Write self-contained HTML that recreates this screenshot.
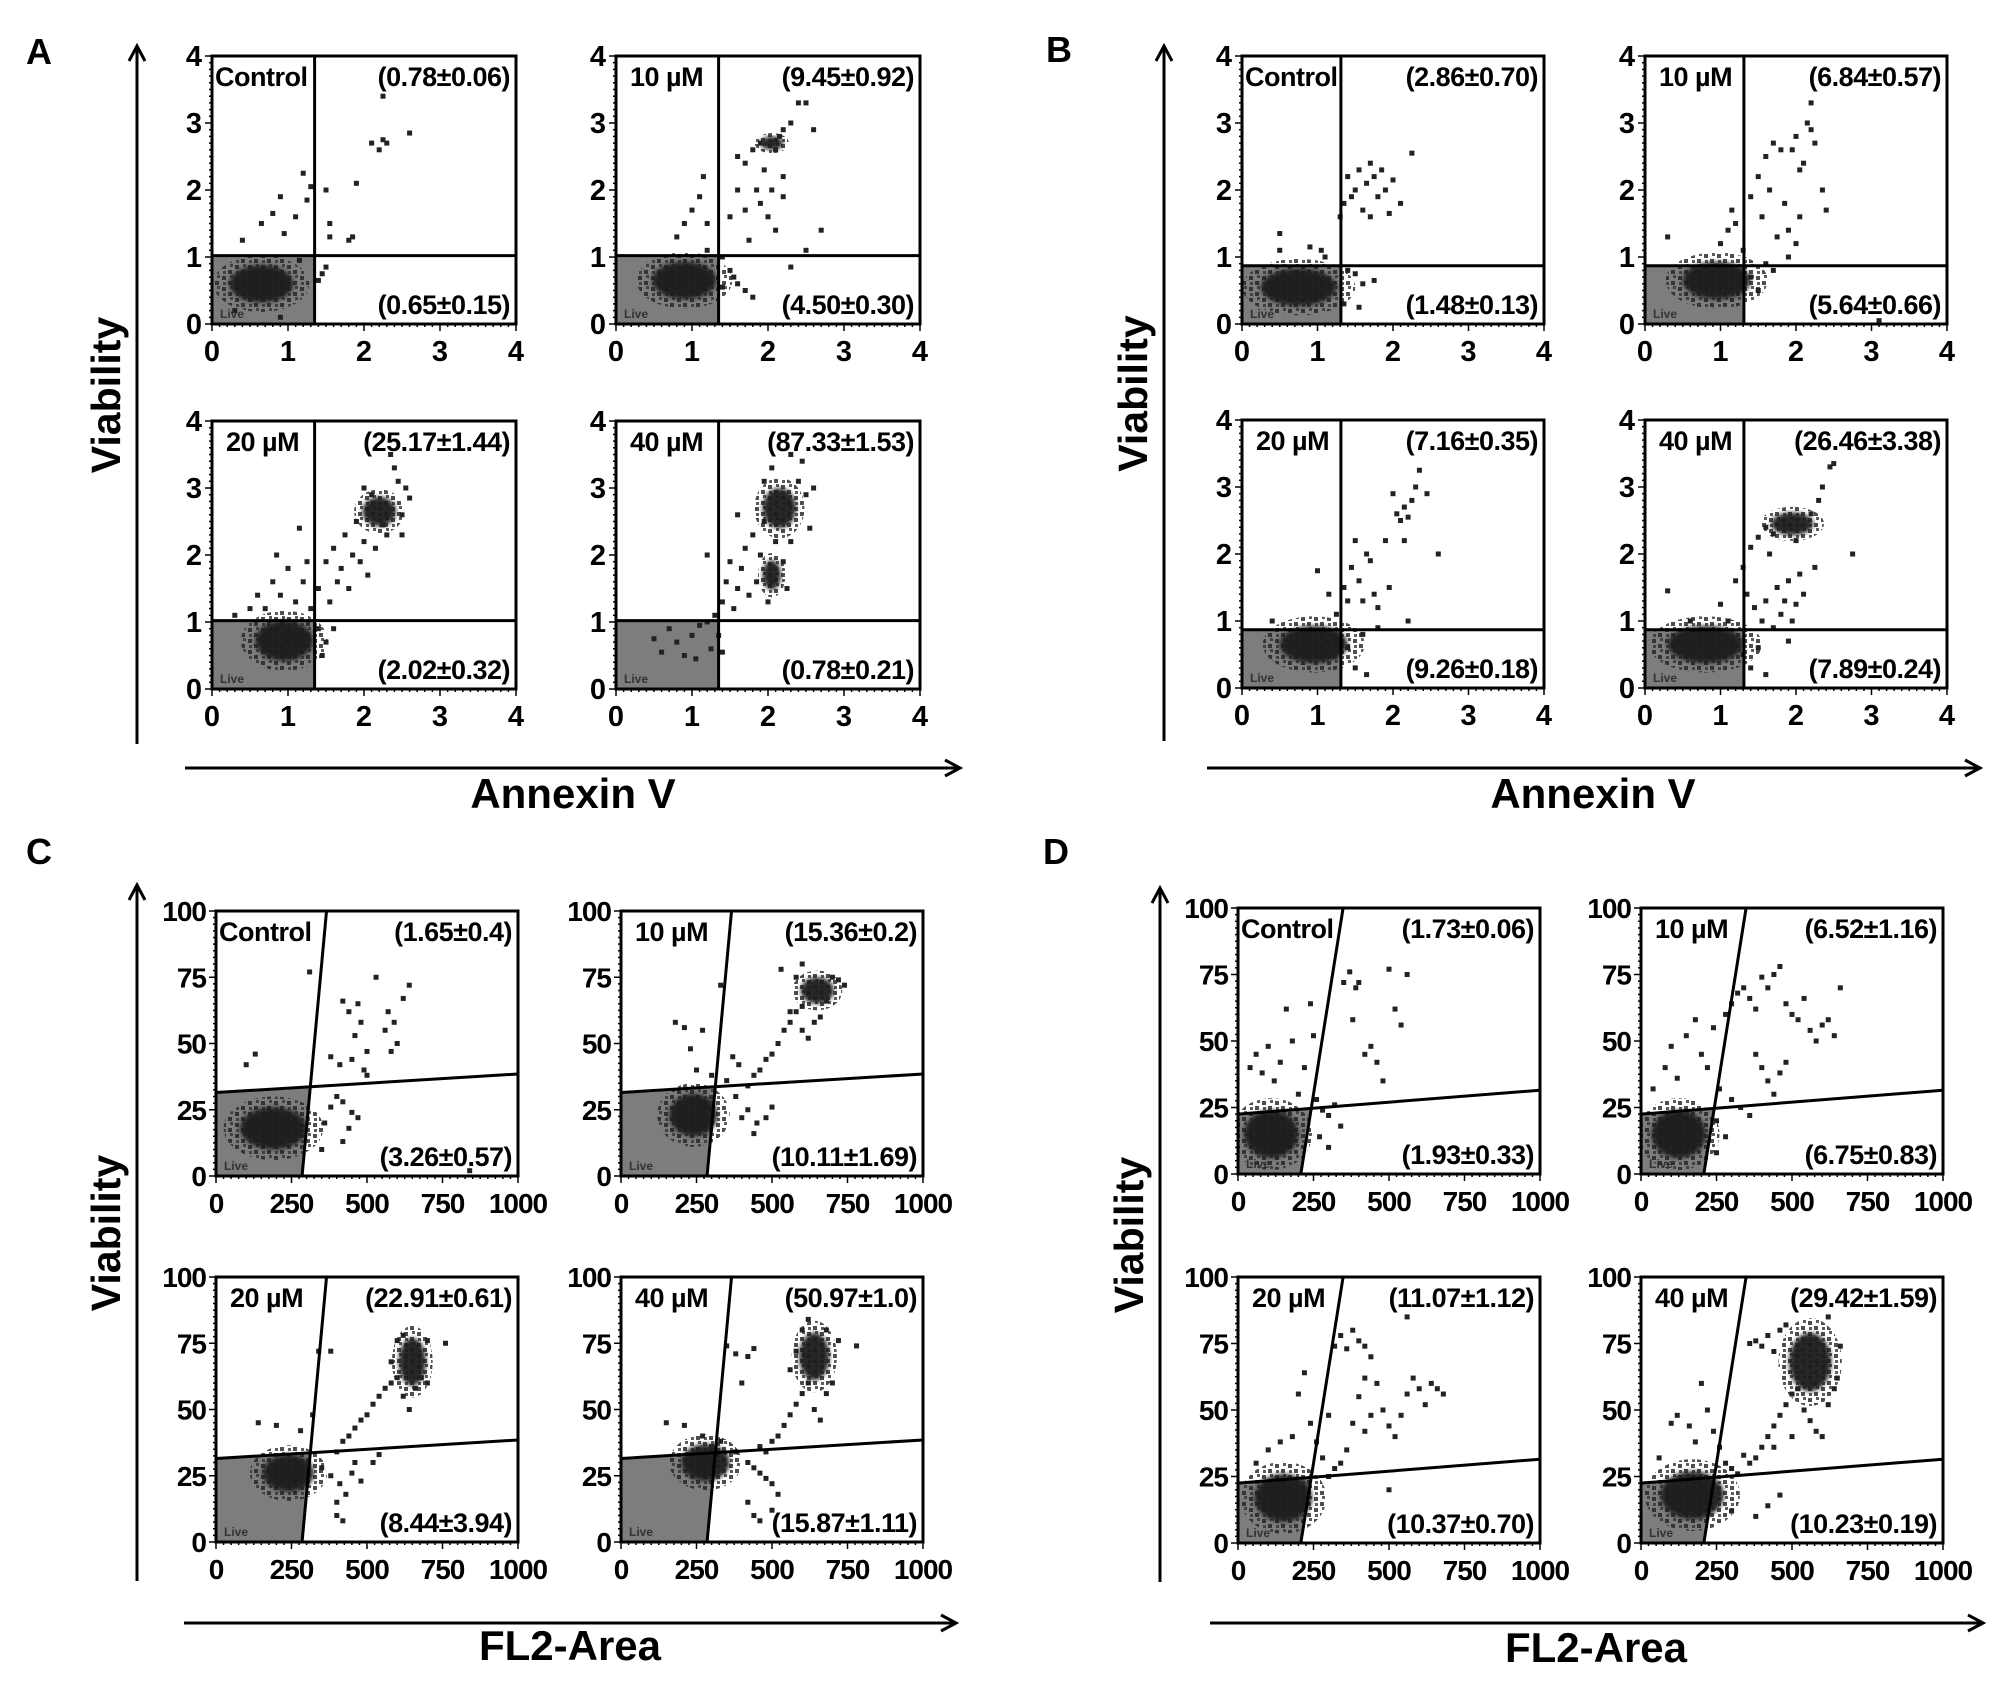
<!DOCTYPE html>
<html><head><meta charset="utf-8">
<style>
html,body{margin:0;padding:0;background:#fff;}
svg{display:block;font-family:"Liberation Sans",Arial,sans-serif;}
</style></head>
<body>
<svg id="fig" width="2008" height="1688" viewBox="0 0 2008 1688" xmlns="http://www.w3.org/2000/svg">
<defs>
<marker id="arr" viewBox="0 0 20 20" refX="17" refY="10" markerWidth="20" markerHeight="20" markerUnits="userSpaceOnUse" orient="auto">
<path d="M2,2 L17,10 L2,18" fill="none" stroke="#000" stroke-width="3"/>
</marker>
<filter id="soft"><feGaussianBlur stdDeviation="2"/></filter>
<pattern id="grain" width="13" height="11" patternUnits="userSpaceOnUse">
<rect x="1" y="1" width="4" height="4" fill="#222"/>
<rect x="7" y="6" width="4" height="4" fill="#222"/>
<rect x="9" y="0" width="3" height="3" fill="#333"/>
<rect x="2" y="7" width="3" height="3" fill="#333"/>
</pattern>
</defs>
<g id="root"></g>
</svg>
<script>
// ---------- Panel-level labels ----------
const panelLetters = ["A","B","C","D"];
const annexTicks = ["0","1","2","3","4"];
const annexTickVals = [0,1,2,3,4];
const flTicks = ["0","250","500","750","1000"];
const flTickVals = [0,250,500,750,1000];
const viaTicks = ["0","25","50","75","100"];
const viaTickVals = [0,25,50,75,100];

// ---------- Condition labels ----------
const condLabels = ["Control","10 µM","20 µM","40 µM"];

// ---------- Quadrant percentages ----------
const urA = ["(0.78±0.06)","(9.45±0.92)","(25.17±1.44)","(87.33±1.53)"];
const lrA = ["(0.65±0.15)","(4.50±0.30)","(2.02±0.32)","(0.78±0.21)"];
const urB = ["(2.86±0.70)","(6.84±0.57)","(7.16±0.35)","(26.46±3.38)"];
const lrB = ["(1.48±0.13)","(5.64±0.66)","(9.26±0.18)","(7.89±0.24)"];
const urC = ["(1.65±0.4)","(15.36±0.2)","(22.91±0.61)","(50.97±1.0)"];
const lrC = ["(3.26±0.57)","(10.11±1.69)","(8.44±3.94)","(15.87±1.11)"];
const urD = ["(1.73±0.06)","(6.52±1.16)","(11.07±1.12)","(29.42±1.59)"];
const lrD = ["(1.93±0.33)","(6.75±0.83)","(10.37±0.70)","(10.23±0.19)"];

// ---------- Gate positions (data units) ----------
const gateA = [1.35, 1.02];
const gateB = [1.31, 0.87];
const gateC = [285, 366, 31.5, 38.5];
const gateD = [208, 348, 22.5, 31.5];

// ---------- Dense clusters [x, y, rx, ry] ----------
const blobsA1 = [[0.65,0.6,0.42,0.28]];
const blobsA2 = [[0.9,0.65,0.42,0.28],[2.05,2.7,0.15,0.1]];
const blobsA3 = [[0.95,0.72,0.38,0.3],[2.2,2.65,0.22,0.22]];
const blobsA4 = [[2.15,2.7,0.22,0.3],[2.05,1.7,0.12,0.22]];
const blobsB1 = [[0.75,0.55,0.5,0.28]];
const blobsB2 = [[0.95,0.65,0.45,0.28]];
const blobsB3 = [[0.95,0.65,0.45,0.28]];
const blobsB4 = [[0.8,0.65,0.5,0.28],[1.95,2.45,0.28,0.17]];
const blobsC1 = [[190,18,110,8]];
const blobsC2 = [[240,23,80,8],[650,70,55,5]];
const blobsC3 = [[240,26,85,7],[650,68,45,9]];
const blobsC4 = [[280,30,80,7],[640,70,50,9]];
const blobsD1 = [[110,15,90,9]];
const blobsD2 = [[125,15,90,9]];
const blobsD3 = [[150,17,95,9]];
const blobsD4 = [[170,18,105,9],[560,68,70,11]];

// ---------- Scattered events [x, y] ----------
const ptsA1 = [[0.4,1.25],[0.65,1.5],[0.8,1.65],[0.9,1.9],[0.95,1.35],[1.1,1.6],[1.2,2.25],[1.25,1.85],[1.3,2.05],[1.5,2.0],[1.55,1.5],[1.55,1.3],[1.9,2.1],[1.85,1.3],[1.8,1.25],[2.1,2.7],[2.2,2.6],[2.25,2.75],[2.3,2.7],[2.25,3.4],[2.6,2.85],[1.5,0.85],[1.4,0.65],[1.45,0.75],[1.15,0.95],[0.9,0.1],[0.3,0.2]];
const ptsA2 = [[0.8,1.3],[0.9,1.5],[1.0,1.7],[1.1,1.9],[1.15,2.2],[1.2,1.1],[1.2,1.5],[1.5,1.6],[1.6,2.0],[1.6,2.5],[1.7,2.4],[1.8,2.6],[1.85,2.0],[1.9,1.8],[2.0,1.6],[2.05,2.0],[2.1,1.4],[2.2,2.9],[2.3,3.0],[2.4,3.3],[2.5,3.3],[2.6,2.9],[2.7,1.4],[2.5,1.1],[2.3,0.85],[1.5,0.8],[1.6,0.6],[1.7,0.5],[1.4,1.0],[1.75,1.25],[1.95,2.3],[2.2,2.2],[1.9,2.7],[2.1,2.6],[2.15,2.8],[1.4,0.55],[1.55,0.7],[1.8,0.4],[2.2,1.9],[1.7,1.7]];
const ptsA3 = [[0.5,1.2],[0.6,1.4],[0.7,1.2],[0.8,1.6],[0.85,2.0],[0.9,1.4],[1.0,1.8],[1.1,1.3],[1.15,2.4],[1.2,1.6],[1.25,1.9],[1.3,1.2],[1.4,1.5],[1.5,1.9],[1.55,1.3],[1.6,2.1],[1.65,1.6],[1.7,1.8],[1.75,2.3],[1.8,1.5],[1.85,2.0],[1.9,2.5],[1.95,1.9],[2.0,2.2],[2.05,1.7],[2.1,2.9],[2.15,2.1],[2.3,2.3],[2.4,3.3],[2.45,3.1],[2.5,2.6],[2.55,3.0],[2.6,2.85],[2.35,3.5],[2.0,3.0],[1.6,0.9],[1.5,0.7],[1.45,0.5],[1.4,0.9],[0.3,1.1],[2.25,2.45],[2.5,2.3]];
const ptsA4 = [[0.6,0.55],[0.8,0.7],[0.9,0.5],[1.0,0.8],[1.05,0.45],[1.1,0.95],[1.2,1.0],[1.25,0.6],[1.3,1.1],[1.35,0.8],[1.4,1.3],[1.45,1.6],[1.5,1.9],[1.55,1.2],[1.6,1.5],[1.65,1.8],[1.7,2.1],[1.75,1.4],[1.8,2.3],[1.85,1.6],[1.9,2.0],[1.95,2.5],[2.0,1.3],[2.1,2.2],[2.2,1.9],[2.25,1.5],[2.3,2.2],[2.4,3.1],[2.45,3.4],[2.5,2.9],[2.55,2.4],[2.6,3.0],[1.95,3.1],[2.05,3.3],[2.3,3.5],[1.4,0.55],[1.2,2.0],[1.6,2.6],[0.7,0.9],[0.5,0.75]];
const ptsB1 = [[0.5,1.35],[0.5,1.1],[0.9,1.15],[1.05,1.1],[1.3,1.6],[1.35,1.8],[1.4,2.2],[1.45,1.9],[1.5,2.0],[1.55,2.3],[1.6,1.7],[1.65,2.1],[1.7,2.4],[1.75,2.2],[1.8,1.9],[1.85,2.3],[1.9,2.0],[1.95,1.65],[2.0,2.15],[2.1,1.8],[1.7,1.6],[2.25,2.55],[1.4,0.8],[1.5,0.75],[1.6,0.6],[1.75,0.65],[1.55,0.25],[1.35,0.3],[1.1,1.0]];
const ptsB2 = [[0.3,1.3],[1.0,1.2],[1.1,1.4],[1.15,1.7],[1.2,1.5],[1.3,1.1],[1.4,1.9],[1.5,2.2],[1.55,1.6],[1.6,2.5],[1.65,2.0],[1.7,2.7],[1.75,1.3],[1.8,2.6],[1.85,1.8],[1.9,1.4],[1.95,2.6],[2.0,2.8],[2.05,1.6],[2.1,2.4],[2.15,3.0],[2.2,3.3],[2.25,2.7],[2.35,2.0],[2.4,1.7],[2.0,1.2],[1.9,1.0],[1.6,0.9],[1.4,0.7],[1.5,0.5],[1.7,0.8],[2.2,2.9],[2.05,2.3],[3.1,0.05]];
const ptsB3 = [[0.4,1.0],[1.0,1.75],[1.15,1.4],[1.25,1.1],[1.35,1.5],[1.4,1.3],[1.45,1.8],[1.5,2.2],[1.55,1.6],[1.6,1.3],[1.65,2.0],[1.7,1.9],[1.75,1.4],[1.8,1.2],[1.9,2.2],[1.95,1.5],[2.0,2.9],[2.05,2.6],[2.1,2.5],[2.15,2.7],[2.2,2.55],[2.25,2.8],[2.3,3.0],[2.35,3.25],[2.45,2.9],[2.6,2.0],[2.2,1.0],[1.8,0.9],[1.6,0.8],[1.5,0.3],[1.65,0.2],[1.4,0.6],[2.15,2.2]];
const ptsB4 = [[0.3,1.45],[0.6,1.0],[1.0,1.25],[1.1,1.0],[1.2,1.6],[1.3,1.8],[1.35,1.4],[1.4,2.1],[1.45,1.2],[1.5,2.25],[1.55,1.0],[1.6,1.3],[1.65,2.0],[1.7,0.9],[1.75,1.5],[1.8,1.1],[1.85,1.3],[1.9,1.6],[1.95,1.0],[2.0,1.25],[2.05,1.7],[2.1,1.4],[2.2,2.6],[2.3,2.8],[2.35,3.0],[2.45,3.3],[2.5,3.35],[2.25,1.8],[2.75,2.0],[1.6,2.4],[1.7,2.3],[1.5,0.6],[1.4,0.3],[1.6,0.2],[1.3,0.5],[1.9,0.7],[2.0,2.2]];
const ptsC1 = [[100,42],[130,46],[310,77],[380,45],[410,42],[420,66],[440,62],[450,44],[460,53],[470,65],[480,58],[490,40],[500,47],[530,75],[560,55],[570,62],[580,47],[590,58],[620,67],[640,72],[600,50],[400,30],[420,28],[450,24],[470,22],[440,18],[380,26],[360,20],[500,38],[840,2],[350,10],[420,13]];
const ptsC2 = [[180,58],[210,56],[230,48],[250,40],[270,55],[300,38],[330,72],[350,36],[370,45],[390,42],[420,34],[440,38],[460,40],[480,44],[500,46],[520,50],[540,55],[560,58],[580,62],[600,80],[600,55],[620,52],[640,58],[660,60],[700,75],[720,74],[740,72],[580,75],[560,62],[420,25],[450,20],[480,22],[500,26],[440,16],[380,30],[400,22],[530,78],[600,64],[680,66]];
const ptsC3 = [[140,45],[200,44],[280,42],[320,48],[340,72],[380,72],[400,34],[420,38],[440,40],[460,43],[480,46],[500,48],[520,52],[540,55],[560,58],[580,60],[600,62],[620,55],[640,50],[660,58],[680,62],[700,60],[760,75],[580,68],[600,76],[620,78],[700,76],[380,25],[410,22],[430,18],[450,26],[460,30],[400,15],[350,28],[400,10],[420,8],[480,23],[520,30],[540,33]];
const ptsC4 = [[150,45],[210,44],[270,40],[300,36],[350,74],[380,71],[400,60],[420,70],[440,73],[460,36],[480,34],[500,38],[520,40],[540,44],[560,48],[580,52],[600,56],[620,60],[640,50],[660,46],[680,56],[700,60],[560,65],[580,72],[600,80],[620,84],[680,80],[720,76],[780,74],[420,30],[440,28],[460,26],[480,24],[500,22],[520,18],[420,15],[440,10],[460,8],[500,12],[380,34],[330,38]];
const ptsD1 = [[40,40],[60,45],[80,38],[100,48],[120,35],[140,42],[160,62],[180,50],[200,30],[220,40],[240,64],[260,28],[280,24],[300,22],[320,26],[340,18],[350,72],[370,76],[380,58],[390,70],[400,72],[420,45],[440,48],[460,42],[480,35],[500,77],[520,62],[540,56],[560,75],[250,52],[300,10],[270,14]];
const ptsD2 = [[40,32],[80,40],[100,48],[120,36],[150,52],[180,58],[200,45],[220,40],[240,55],[260,32],[280,60],[300,64],[320,68],[340,70],[360,66],[380,62],[400,74],[420,70],[440,75],[460,78],[480,64],[500,60],[520,58],[540,66],[560,54],[580,50],[600,56],[620,58],[640,52],[660,70],[380,45],[400,40],[420,35],[440,30],[460,38],[480,42],[300,28],[330,25],[360,22],[250,20],[280,14],[250,8]];
const ptsD3 = [[60,30],[100,35],[140,38],[180,40],[200,56],[220,64],[240,45],[260,38],[280,32],[300,48],[320,74],[340,78],[360,73],[380,80],[400,76],[420,74],[440,70],[460,60],[480,50],[500,44],[520,40],[540,48],[560,56],[580,62],[600,58],[620,52],[640,60],[660,58],[680,56],[420,62],[400,55],[380,45],[360,35],[340,30],[320,28],[300,25],[500,20],[560,85],[420,42],[440,48]];
const ptsD4 = [[60,32],[100,45],[120,48],[160,44],[180,38],[200,60],[220,50],[240,42],[260,36],[280,30],[300,28],[320,26],[340,33],[360,30],[380,32],[400,36],[420,40],[440,44],[460,48],[480,52],[500,56],[520,58],[540,50],[560,46],[580,42],[600,40],[620,52],[640,58],[650,62],[360,75],[380,76],[400,74],[420,78],[440,72],[460,80],[480,82],[620,85],[660,74],[460,18],[420,14],[380,10],[300,12],[440,36],[500,40]];

// ---------- Rendering ----------
const NS = "http://www.w3.org/2000/svg";
const root = document.getElementById("root");
function el(tag, attrs, parent){
  const e = document.createElementNS(NS, tag);
  for (const k in attrs) e.setAttribute(k, attrs[k]);
  (parent||root).appendChild(e);
  return e;
}
function txt(s, attrs, parent){ const t = el("text", attrs, parent); t.textContent = s; return t; }

const panels = [
  {id:"a", letter:panelLetters[0], lx:39, ly:64, cols:[212,616], rows:[56,421], w:304, h:268, type:"annexin", gate:gateA, ur:urA, lr:lrA,
   blobs:[blobsA1,blobsA2,blobsA3,blobsA4], pts:[ptsA1,ptsA2,ptsA3,ptsA4], yArrow:[137,744,46], xArrow:[768,185,960], xTitle:"Annexin V", xtx:573, xty:808},
  {id:"b", letter:panelLetters[1], lx:1059, ly:62, cols:[1242,1645], rows:[56,420], w:302, h:268, type:"annexin", gate:gateB, ur:urB, lr:lrB,
   blobs:[blobsB1,blobsB2,blobsB3,blobsB4], pts:[ptsB1,ptsB2,ptsB3,ptsB4], yArrow:[1164,741,46], xArrow:[768,1207,1980], xTitle:"Annexin V", xtx:1593, xty:808},
  {id:"c", letter:panelLetters[2], lx:39, ly:864, cols:[216,621], rows:[911,1277], w:302, h:265, type:"fl2", gate:gateC, ur:urC, lr:lrC,
   blobs:[blobsC1,blobsC2,blobsC3,blobsC4], pts:[ptsC1,ptsC2,ptsC3,ptsC4], yArrow:[137,1581,885], xArrow:[1623,184,956], xTitle:"FL2-Area", xtx:570, xty:1660},
  {id:"d", letter:panelLetters[3], lx:1056, ly:864, cols:[1238,1641], rows:[908,1277], w:302, h:266, type:"fl2", gate:gateD, ur:urD, lr:lrD,
   blobs:[blobsD1,blobsD2,blobsD3,blobsD4], pts:[ptsD1,ptsD2,ptsD3,ptsD4], yArrow:[1160,1582,888], xArrow:[1623,1210,1983], xTitle:"FL2-Area", xtx:1596, xty:1662}
];

panels.forEach(P => {
  const pg = el("g", {});
  
  
  const L = txt(P.letter, {x:P.lx, y:P.ly, "font-size":36, "font-weight":"bold", "text-anchor":"middle"}, pg);
  
  
  const ya = el("line", {x1:P.yArrow[0], y1:P.yArrow[1], x2:P.yArrow[0], y2:P.yArrow[2], stroke:"#000", "stroke-width":3, "marker-end":"url(#arr)"}, pg);
  
  
  const xa = el("line", {x1:P.xArrow[1], y1:P.xArrow[0], x2:P.xArrow[2], y2:P.xArrow[0], stroke:"#000", "stroke-width":3, "marker-end":"url(#arr)"}, pg);
  
  
  const yt = txt("Viability", {x:0, y:0, "font-size":41, "font-weight":"bold", "text-anchor":"middle",
      transform:"translate(" + (P.yArrow[0]-17) + "," + ((P.yArrow[1]+P.yArrow[2])/2) + ") rotate(-90)"}, pg);
  
  
  const xt = txt(P.xTitle, {x:P.xtx, y:P.xty, "font-size":42, "font-weight":"bold", "text-anchor":"middle"}, pg);
  
  

  const isA = P.type === "annexin";
  const xmax = isA ? 4 : 1000, ymax = isA ? 4 : 100;
  const xTV = isA ? annexTickVals : flTickVals, xTL = isA ? annexTicks : flTicks;
  const yTV = isA ? annexTickVals : viaTickVals, yTL = isA ? annexTicks : viaTicks;

  for (let r = 0; r < 2; r++) for (let c = 0; c < 2; c++) {
    const k = r*2 + c;
    const x0 = P.cols[c], y0 = P.rows[r], w = P.w, h = P.h;
    const sx = v => x0 + v / xmax * w;
    const sy = v => y0 + h - v / ymax * h;
    const g = el("g", {}, pg);
    
    
    const clipId = "clip-" + P.id + k;
    const cp = el("clipPath", {id:clipId}, g);
    el("rect", {x:x0, y:y0, width:w, height:h}, cp);

    let gate;
    if (isA) {
      gate = el("rect", {x:sx(0), y:sy(P.gate[1]), width:sx(P.gate[0])-sx(0), height:sy(0)-sy(P.gate[1]), fill:"#7d7d7d"}, g);
    } else {
      const [vb, vt, hl, hr] = P.gate;
      let yI = hl; for (let it=0; it<5; it++){ const xI = vb + (vt-vb)*yI/100; yI = hl + (hr-hl)*xI/1000; }
      const xI = vb + (vt-vb)*yI/100;
      gate = el("polygon", {points:[sx(0),sy(0),sx(vb),sy(0),sx(xI),sy(yI),sx(0),sy(hl)].join(" "), fill:"#7d7d7d"}, g);
    }
    
    
    const lv = txt("Live", {x:x0+8, y:y0+h-6, "font-size":12, "font-weight":"bold", fill:"#333"}, g);
    
    

    const bg = el("g", {"clip-path":"url(#"+clipId+")"}, g);
    P.blobs[k].forEach(b => {
      const halo = el("ellipse", {cx:sx(b[0]), cy:sy(b[1]), rx:b[2]/xmax*w*1.5, ry:b[3]/ymax*h*1.5, fill:"url(#grain)", opacity:0.8}, bg);
      
      
      const e = el("ellipse", {cx:sx(b[0]), cy:sy(b[1]), rx:b[2]/xmax*w, ry:b[3]/ymax*h, fill:"#1a1a1a", opacity:0.95, filter:"url(#soft)"}, bg);
      
      
    });
    P.pts[k].forEach(p => {
      const d = el("rect", {x:sx(p[0])-2.5, y:sy(p[1])-2.5, width:5, height:5, fill:"#222"}, bg);
      
      
    });

    if (isA) {
      const l1 = el("line", {x1:sx(P.gate[0]), y1:y0, x2:sx(P.gate[0]), y2:y0+h, stroke:"#000", "stroke-width":3}, g);
      
      
      const l2 = el("line", {x1:x0, y1:sy(P.gate[1]), x2:x0+w, y2:sy(P.gate[1]), stroke:"#000", "stroke-width":3}, g);
      
      
    } else {
      const [vb, vt, hl, hr] = P.gate;
      const l1 = el("line", {x1:sx(vb), y1:sy(0), x2:sx(vt), y2:sy(100), stroke:"#000", "stroke-width":3}, g);
      
      
      const l2 = el("line", {x1:sx(0), y1:sy(hl), x2:sx(1000), y2:sy(hr), stroke:"#000", "stroke-width":3}, g);
      
      
    }

    const fr = el("rect", {x:x0, y:y0, width:w, height:h, fill:"none", stroke:"#000", "stroke-width":3}, g);
    
    

    for (let i = 0; i <= 40; i++) {
      const tx = x0 + i*w/40, ty = y0 + h - i*h/40;
      el("line", {x1:tx, y1:y0+h, x2:tx, y2:y0+h+(i%10===0?7:3), stroke:"#000", "stroke-width":1.5}, g);
      el("line", {x1:x0, y1:ty, x2:x0-(i%10===0?7:3), y2:ty, stroke:"#000", "stroke-width":1.5}, g);
    }

    xTV.forEach((v, i) => {
      const t = txt(xTL[i], {x:sx(v), y:y0+h+37, "font-size":isA?29:28, "font-weight":"bold", "text-anchor":"middle", "letter-spacing":isA?0:-1}, g);
      
      
    });
    yTV.forEach((v, i) => {
      const t = txt(yTL[i], {x:x0-10, y:sy(v)+10, "font-size":isA?29:28, "font-weight":"bold", "text-anchor":"end", "letter-spacing":isA?0:-1}, g);
      
      
    });

    const cl = txt(condLabels[k], {x:x0+(k===0?3:14), y:y0+30, "font-size":27, "font-weight":"bold", "letter-spacing":-0.5}, g);
    
    
    const u = txt(P.ur[k], {x:x0+w-6, y:y0+30, "font-size":27, "font-weight":"bold", "text-anchor":"end", "letter-spacing":-0.5}, g);
    
    
    const lo = txt(P.lr[k], {x:x0+w-6, y:y0+h-10, "font-size":27, "font-weight":"bold", "text-anchor":"end", "letter-spacing":-0.5}, g);
    
    
  }
});
</script>
</body></html>
